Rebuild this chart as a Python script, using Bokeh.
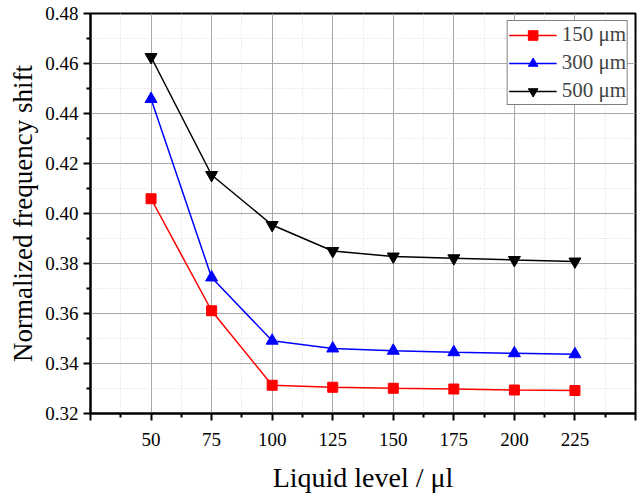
from bokeh.plotting import figure
from bokeh.models import FixedTicker, Range1d, NumeralTickFormatter
from bokeh.embed import file_html
from bokeh.resources import INLINE

# Data
liquid_level = [50, 75, 100, 125, 150, 175, 200, 225]
shift_150 = [0.4059, 0.3611, 0.3313, 0.3305, 0.3301, 0.3298, 0.3294, 0.3292]
shift_300 = [0.4458, 0.3744, 0.3491, 0.3460, 0.3451, 0.3445, 0.3441, 0.3437]
shift_500 = [0.4626, 0.4154, 0.3954, 0.3850, 0.3828, 0.3821, 0.3814, 0.3808]
series_labels = ["150 \u03bcm", "300 \u03bcm", "500 \u03bcm"]
x_major = [25, 50, 75, 100, 125, 150, 175, 200, 225, 250]
x_minor = [37.5, 62.5, 87.5, 112.5, 137.5, 162.5, 187.5, 212.5, 237.5]
y_major = [0.32, 0.34, 0.36, 0.38, 0.40, 0.42, 0.44, 0.46, 0.48]
y_minor = [0.33, 0.35, 0.37, 0.39, 0.41, 0.43, 0.45, 0.47]

FONT = "Liberation Serif"

p = figure(width=638, height=495, output_backend="svg", toolbar_location=None,
           x_range=Range1d(25, 250), y_range=Range1d(0.32, 0.48),
           min_border_left=90, min_border_right=3, min_border_top=13, min_border_bottom=81)

p.background_fill_color = "white"
p.outline_line_color = "black"
p.outline_line_width = 2

# axes
p.xaxis.ticker = FixedTicker(ticks=x_major, minor_ticks=x_minor)
p.yaxis.ticker = FixedTicker(ticks=y_major, minor_ticks=y_minor)
p.xaxis.major_label_overrides = {25: "", 250: ""}
p.yaxis.formatter = NumeralTickFormatter(format="0.00")

for ax in (p.xaxis[0], p.yaxis[0]):
    ax.axis_line_width = 2
    ax.axis_line_color = "black"
    ax.major_tick_line_width = 2
    ax.minor_tick_line_width = 2
    ax.major_tick_in = 0
    ax.minor_tick_in = 0
    ax.major_tick_out = 7
    ax.minor_tick_out = 4
    ax.major_label_text_font = FONT
    ax.major_label_text_font_size = "19px"
    ax.major_label_text_color = "black"
    ax.axis_label_text_font = FONT
    ax.axis_label_text_font_style = "normal"
    ax.axis_label_text_color = "black"

p.xaxis.axis_label = "Liquid level / \u03bcl"
p.yaxis.axis_label = "Normalized frequency shift"
p.xaxis.axis_label_text_font_size = "28px"
p.yaxis.axis_label_text_font_size = "27px"
p.xaxis.major_label_standoff = 12
p.xaxis.axis_label_standoff = 13
p.yaxis.major_label_standoff = 5
p.yaxis.axis_label_standoff = 4

# grids
for g in (p.xgrid[0], p.ygrid[0]):
    g.grid_line_color = "#a8a8a8"
    g.grid_line_width = 1
    g.minor_grid_line_color = "#d8d8d8"
    g.minor_grid_line_dash = "1 2"
    g.minor_grid_line_width = 1

# series
p.line(liquid_level, shift_150, color="#ff0000", line_width=1.5, legend_label=series_labels[0])
p.scatter(liquid_level, shift_150, marker="square", size=10, color="#ff0000", legend_label=series_labels[0])
p.line(liquid_level, shift_300, color="#0000ff", line_width=1.5, legend_label=series_labels[1])
p.scatter(liquid_level, shift_300, marker="triangle", size=12, color="#0000ff", legend_label=series_labels[1])
p.line(liquid_level, shift_500, color="black", line_width=1.5, legend_label=series_labels[2])
p.scatter(liquid_level, shift_500, marker="inverted_triangle", size=12, color="black", legend_label=series_labels[2])

lg = p.legend[0]
lg.location = "top_right"
lg.margin = 7
lg.padding = 1
lg.spacing = 3
lg.glyph_width = 48
lg.glyph_height = 24
lg.label_standoff = 5
lg.label_text_font = FONT
lg.label_text_font_size = "21px"
lg.label_height = 24
lg.border_line_color = "black"
lg.border_line_width = 1
lg.background_fill_alpha = 1.0

open("out.html", "w").write(file_html(p, INLINE))
